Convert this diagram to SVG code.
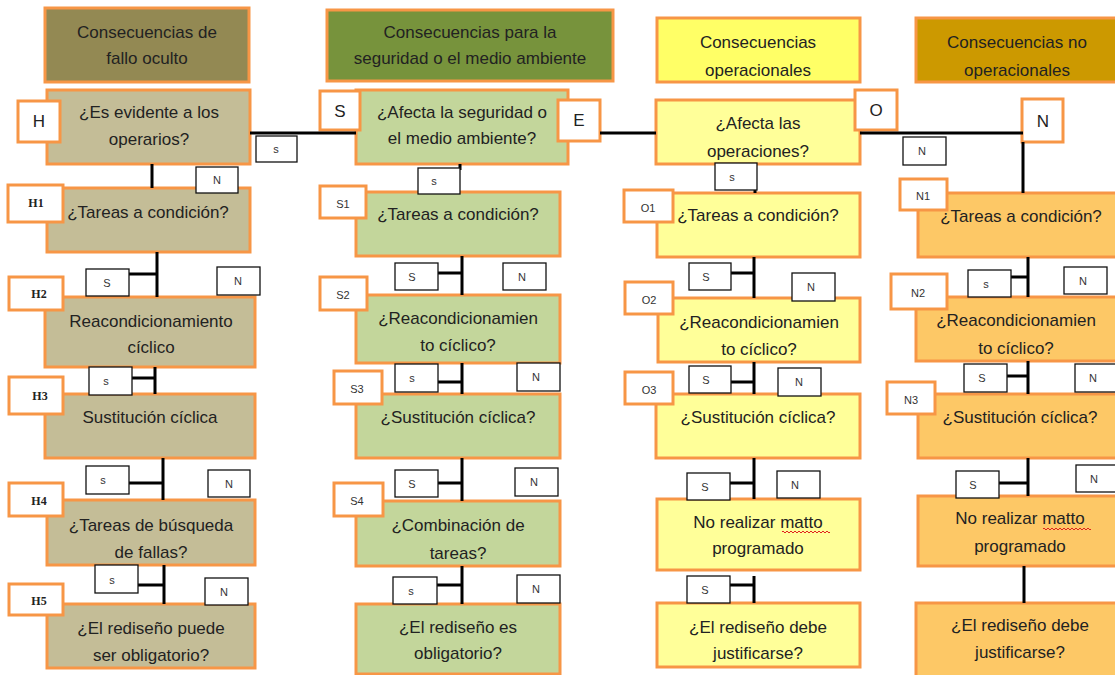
<svg xmlns="http://www.w3.org/2000/svg" width="1115" height="675" viewBox="0 0 1115 675">
<style>
.node{stroke:#f79646;stroke-width:3}
.tag{fill:#fff;stroke:#f79646;stroke-width:3}
.lbl{fill:#fff;stroke:#111;stroke-width:1.3}
.wire{stroke:#000;stroke-width:3;fill:none}
.t{font-family:"Liberation Sans",Arial,sans-serif;font-size:17px;fill:#222;text-anchor:middle}
.tg{font-family:"Liberation Sans",Arial,sans-serif;font-size:17px;fill:#222;text-anchor:middle}
.ts{font-family:"Liberation Sans",Arial,sans-serif;font-size:11px;fill:#333;text-anchor:middle}
.tser{font-family:"Liberation Serif","Times New Roman",serif;font-size:12px;fill:#222;text-anchor:middle;font-weight:bold}
.c1h{fill:#938953}.c1{fill:#c4bd97}
.c2h{fill:#77933c}.c2{fill:#c3d69b}
.c3h{fill:#ffff66}.c3{fill:#ffff99}
.c4h{fill:#cc9900}.c4{fill:#fdc866}
.wavy{stroke:#e02020;stroke-width:1;fill:none}
</style>
<rect width="1115" height="675" fill="#fff"/>

<!-- Column 1 -->
<g id="hdr1"><rect class="node c1h" x="45" y="8" width="204" height="74"/><text class="t" x="147" y="38">Consecuencias de</text><text class="t" x="147" y="64">fallo oculto</text></g>
<g id="nH"><rect class="node c1" x="47" y="90" width="203" height="74"/><text class="t" x="149" y="118">¿Es evidente a los</text><text class="t" x="149" y="145">operarios?</text><rect class="tag" x="18" y="101" width="42" height="41"/><text class="tg" x="39" y="127">H</text></g>
<g id="nH1"><rect class="node c1" x="47" y="188" width="203" height="64"/><text class="t" x="148" y="218">¿Tareas a condición?</text><rect class="tag" x="8" y="185" width="55" height="37"/><text class="tser" x="36" y="207">H1</text></g>
<g id="nH2"><rect class="node c1" x="45" y="297" width="210" height="70"/><text class="t" x="151" y="327">Reacondicionamiento</text><text class="t" x="151" y="353">cíclico</text><rect class="tag" x="9" y="277" width="54" height="33"/><text class="tser" x="39" y="298">H2</text></g>
<g id="nH3"><rect class="node c1" x="45" y="394" width="210" height="64"/><text class="t" x="150" y="423">Sustitución cíclica</text><rect class="tag" x="9" y="377" width="54" height="37"/><text class="tser" x="40" y="400">H3</text></g>
<g id="nH4"><rect class="node c1" x="47" y="500" width="208" height="65"/><text class="t" x="151" y="531">¿Tareas de búsqueda</text><text class="t" x="151" y="558">de fallas?</text><rect class="tag" x="9" y="483" width="54" height="33"/><text class="tser" x="39" y="505">H4</text></g>
<g id="nH5"><rect class="node c1" x="47" y="604" width="208" height="64"/><text class="t" x="151" y="634">¿El rediseño puede</text><text class="t" x="151" y="661">ser obligatorio?</text><rect class="tag" x="9" y="584" width="54" height="31"/><text class="tser" x="39" y="605">H5</text></g>

<!-- Column 2 -->
<g id="hdr2"><rect class="node c2h" x="327" y="10" width="286" height="71"/><text class="t" x="470" y="38">Consecuencias para la</text><text class="t" x="470" y="64">seguridad o el medio ambiente</text></g>
<g id="nS"><rect class="node c2" x="356" y="90" width="212" height="74"/><text class="t" x="462" y="118">¿Afecta la seguridad o</text><text class="t" x="462" y="144">el medio ambiente?</text><rect class="tag" x="320" y="91" width="40" height="39"/><text class="tg" x="340" y="117">S</text><rect class="tag" x="558" y="100" width="42" height="41"/><text class="tg" x="579" y="126">E</text></g>
<g id="nS1"><rect class="node c2" x="356" y="192" width="204" height="64"/><text class="t" x="458" y="220">¿Tareas a condición?</text><rect class="tag" x="320" y="186" width="46" height="32"/><text class="ts" x="343" y="208">S1</text></g>
<g id="nS2"><rect class="node c2" x="356" y="295" width="204" height="68"/><text class="t" x="458" y="324">¿Reacondicionamien</text><text class="t" x="458" y="351">to cíclico?</text><rect class="tag" x="320" y="277" width="47" height="33"/><text class="ts" x="343" y="299">S2</text></g>
<g id="nS3"><rect class="node c2" x="356" y="394" width="204" height="64"/><text class="t" x="458" y="423">¿Sustitución cíclica?</text><rect class="tag" x="334" y="371" width="48" height="33"/><text class="ts" x="357" y="393">S3</text></g>
<g id="nS4"><rect class="node c2" x="356" y="501" width="204" height="65"/><text class="t" x="458" y="531">¿Combinación de</text><text class="t" x="458" y="559">tareas?</text><rect class="tag" x="334" y="483" width="49" height="33"/><text class="ts" x="357" y="505">S4</text></g>
<g id="nS5"><rect class="node c2" x="356" y="604" width="204" height="70"/><text class="t" x="458" y="633">¿El rediseño es</text><text class="t" x="458" y="659">obligatorio?</text></g>

<!-- Column 3 -->
<g id="hdr3"><rect class="node c3h" x="657" y="18" width="203" height="64"/><text class="t" x="758" y="48">Consecuencias</text><text class="t" x="758" y="76">operacionales</text></g>
<g id="nO"><rect class="node c3" x="656" y="100" width="204" height="64"/><text class="t" x="758" y="129">¿Afecta las</text><text class="t" x="758" y="157">operaciones?</text><rect class="tag" x="855" y="90" width="42" height="40"/><text class="tg" x="876" y="116">O</text></g>
<g id="nO1"><rect class="node c3" x="657" y="193" width="203" height="64"/><text class="t" x="758" y="221">¿Tareas a condición?</text><rect class="tag" x="624" y="190" width="49" height="32"/><text class="ts" x="648" y="212">O1</text></g>
<g id="nO2"><rect class="node c3" x="658" y="298" width="202" height="64"/><text class="t" x="759" y="328">¿Reacondicionamien</text><text class="t" x="759" y="355">to cíclico?</text><rect class="tag" x="625" y="282" width="48" height="32"/><text class="ts" x="649" y="304">O2</text></g>
<g id="nO3"><rect class="node c3" x="656" y="394" width="204" height="64"/><text class="t" x="758" y="423">¿Sustitución cíclica?</text><rect class="tag" x="625" y="372" width="48" height="32"/><text class="ts" x="649" y="394">O3</text></g>
<g id="nO4"><rect class="node c3" x="657" y="499" width="203" height="71"/><text class="t" x="758" y="528">No realizar matto</text><text class="t" x="758" y="554">programado</text><path class="wavy" d="M782,532 q1,-2 2,0 t2,0 t2,0 t2,0 t2,0 t2,0 t2,0 t2,0 t2,0 t2,0 t2,0 t2,0 t2,0 t2,0 t2,0 t2,0 t2,0 t2,0 t2,0 t2,0 t2,0 t2,0 t2,0 t2,0"/></g>
<g id="nO5"><rect class="node c3" x="657" y="603" width="203" height="64"/><text class="t" x="758" y="633">¿El rediseño debe</text><text class="t" x="758" y="659">justificarse?</text></g>

<!-- Column 4 -->
<g id="hdr4"><rect class="node c4h" x="916" y="18" width="210" height="64"/><text class="t" x="1017" y="48">Consecuencias no</text><text class="t" x="1017" y="76">operacionales</text></g>
<g id="tagN"><rect class="tag" x="1022" y="99" width="41" height="43"/><text class="tg" x="1043" y="127">N</text></g>
<g id="nN1"><rect class="node c4" x="918" y="193" width="205" height="64"/><text class="t" x="1021" y="222">¿Tareas a condición?</text><rect class="tag" x="900" y="179" width="47" height="31"/><text class="ts" x="923" y="200">N1</text></g>
<g id="nN2"><rect class="node c4" x="916" y="297" width="207" height="64"/><text class="t" x="1016" y="326">¿Reacondicionamien</text><text class="t" x="1016" y="354">to cíclico?</text><rect class="tag" x="891" y="274" width="56" height="35"/><text class="ts" x="918" y="297">N2</text></g>
<g id="nN3"><rect class="node c4" x="918" y="394" width="205" height="64"/><text class="t" x="1020" y="423">¿Sustitución cíclica?</text><rect class="tag" x="887" y="382" width="48" height="32"/><text class="ts" x="911" y="404">N3</text></g>
<g id="nN4"><rect class="node c4" x="918" y="496" width="205" height="70"/><text class="t" x="1020" y="524">No realizar matto</text><text class="t" x="1020" y="552">programado</text><path class="wavy" d="M1043,529 q1,-2 2,0 t2,0 t2,0 t2,0 t2,0 t2,0 t2,0 t2,0 t2,0 t2,0 t2,0 t2,0 t2,0 t2,0 t2,0 t2,0 t2,0 t2,0 t2,0 t2,0 t2,0 t2,0 t2,0 t2,0"/></g>
<g id="nN5"><rect class="node c4" x="916" y="603" width="207" height="75"/><text class="t" x="1020" y="631">¿El rediseño debe</text><text class="t" x="1020" y="658">justificarse?</text></g>

<!-- Connectors -->
<g id="connectors">
<path class="wire" d="M250,133 H356 M600,133 H656 M860,133 H1023 M1023,142 V193"/>
<path class="wire" d="M152,164 V188 M157,252 V297 M129,274 H157 M155,367 V394 M132,378 H155 M163,458 V500 M129,483 H163 M164,565 V604 M138,585 H164"/>
<path class="wire" d="M460,164 V170 M462,256 V295 M438,273 H462 M462,363 V394 M438,382 H462 M462,458 V501 M438,483 H462 M462,566 V604 M436,585 H462"/>
<path class="wire" d="M755,164 V193 M754,257 V298 M731,273 H754 M754,362 V394 M731,382 H754 M754,458 V499 M730,483 H754 M754,576 V603 M730,585 H754"/>
<path class="wire" d="M1028,257 V297 M1011,277 H1028 M1028,361 V394 M1007,376 H1028 M1028,458 V496 M999,483 H1028 M1024,566 V603"/>
<g id="edge-labels">
<rect class="lbl" x="256" y="136" width="41" height="26"/><text class="ts" x="276" y="153">s</text>
<rect class="lbl" x="196" y="167" width="42" height="26"/><text class="ts" x="217" y="184">N</text>
<rect class="lbl" x="86" y="269" width="43" height="27"/><text class="ts" x="107" y="287">S</text>
<rect class="lbl" x="217" y="267" width="43" height="28"/><text class="ts" x="238" y="285">N</text>
<rect class="lbl" x="89" y="367" width="43" height="28"/><text class="ts" x="106" y="385">s</text>
<rect class="lbl" x="86" y="466" width="43" height="28"/><text class="ts" x="103" y="484">s</text>
<rect class="lbl" x="208" y="470" width="42" height="27"/><text class="ts" x="229" y="488">N</text>
<rect class="lbl" x="95" y="565" width="43" height="28"/><text class="ts" x="112" y="584">s</text>
<rect class="lbl" x="205" y="578" width="43" height="27"/><text class="ts" x="224" y="596">N</text>

<rect class="lbl" x="418" y="168" width="42" height="26"/><text class="ts" x="434" y="185">s</text>
<rect class="lbl" x="395" y="263" width="43" height="27"/><text class="ts" x="412" y="281">S</text>
<rect class="lbl" x="503" y="263" width="43" height="27"/><text class="ts" x="522" y="281">N</text>
<rect class="lbl" x="395" y="364" width="43" height="28"/><text class="ts" x="412" y="382">s</text>
<rect class="lbl" x="517" y="363" width="43" height="28"/><text class="ts" x="536" y="381">N</text>
<rect class="lbl" x="395" y="470" width="43" height="27"/><text class="ts" x="412" y="488">S</text>
<rect class="lbl" x="515" y="468" width="43" height="28"/><text class="ts" x="534" y="486">N</text>
<rect class="lbl" x="393" y="577" width="44" height="27"/><text class="ts" x="411" y="595">s</text>
<rect class="lbl" x="517" y="575" width="43" height="28"/><text class="ts" x="536" y="593">N</text>

<rect class="lbl" x="715" y="163" width="42" height="27"/><text class="ts" x="732" y="181">s</text>
<rect class="lbl" x="689" y="263" width="42" height="27"/><text class="ts" x="706" y="281">S</text>
<rect class="lbl" x="792" y="273" width="43" height="28"/><text class="ts" x="811" y="291">N</text>
<rect class="lbl" x="689" y="366" width="42" height="27"/><text class="ts" x="706" y="384">S</text>
<rect class="lbl" x="778" y="368" width="43" height="28"/><text class="ts" x="799" y="386">N</text>
<rect class="lbl" x="687" y="473" width="43" height="27"/><text class="ts" x="705" y="491">S</text>
<rect class="lbl" x="777" y="471" width="43" height="27"/><text class="ts" x="795" y="489">N</text>
<rect class="lbl" x="687" y="576" width="43" height="27"/><text class="ts" x="705" y="594">S</text>

<rect class="lbl" x="903" y="137" width="43" height="28"/><text class="ts" x="922" y="155">N</text>
<rect class="lbl" x="968" y="270" width="43" height="27"/><text class="ts" x="986" y="288">s</text>
<rect class="lbl" x="1064" y="267" width="43" height="27"/><text class="ts" x="1083" y="285">N</text>
<rect class="lbl" x="964" y="364" width="43" height="28"/><text class="ts" x="982" y="382">S</text>
<rect class="lbl" x="1075" y="364" width="43" height="28"/><text class="ts" x="1093" y="382">N</text>
<rect class="lbl" x="956" y="471" width="43" height="27"/><text class="ts" x="973" y="489">S</text>
<rect class="lbl" x="1076" y="465" width="43" height="27"/><text class="ts" x="1094" y="483">N</text>
</g>
</g>
</svg>
